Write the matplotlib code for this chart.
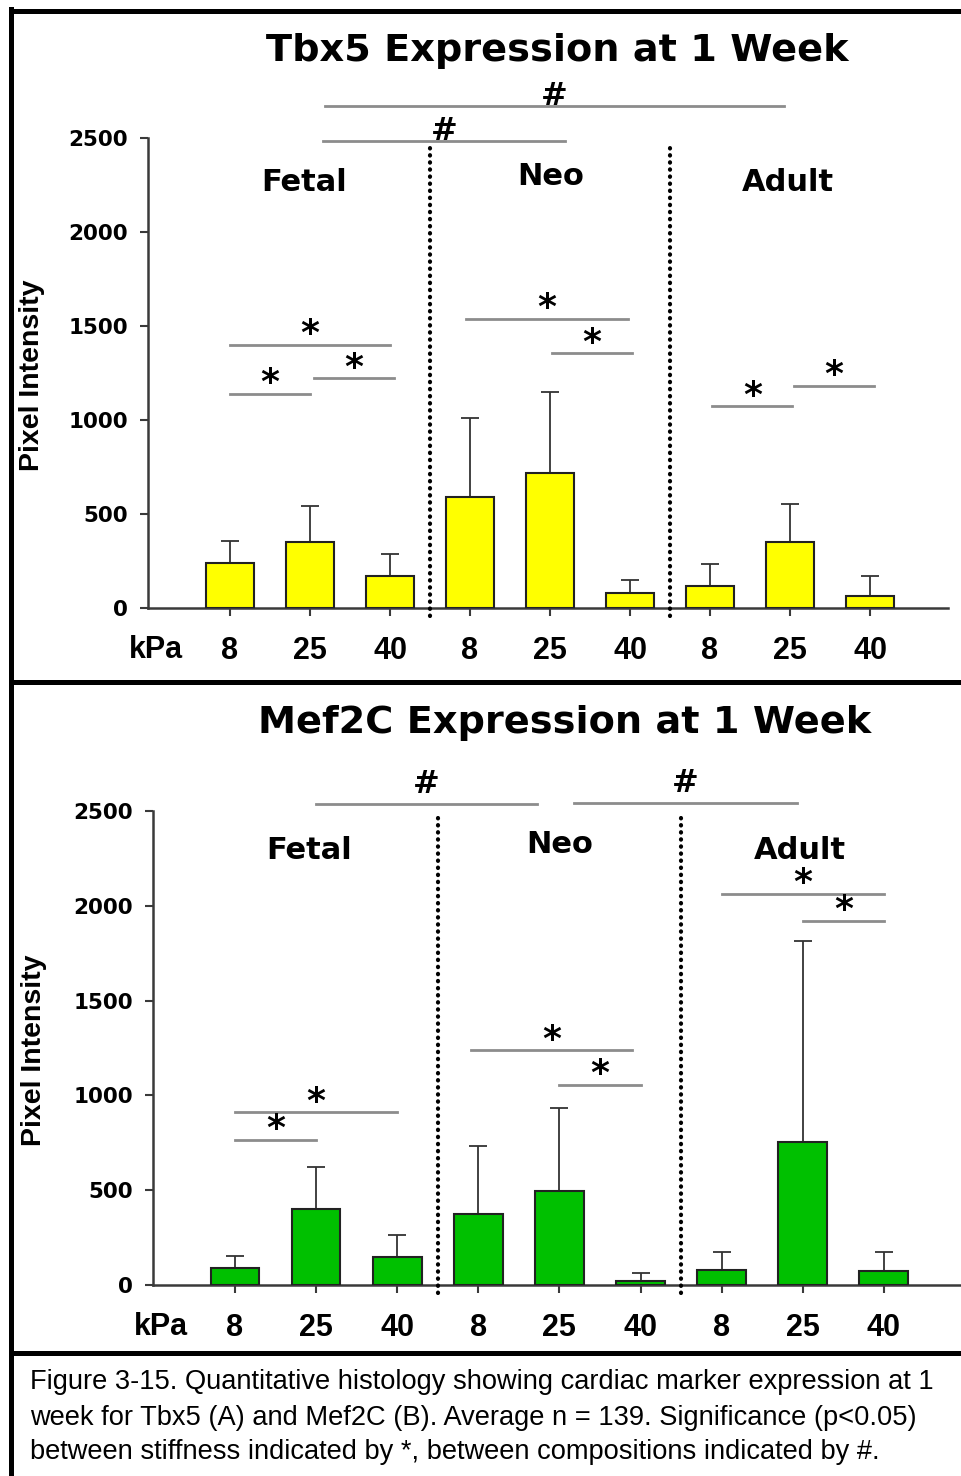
import numpy as np
import matplotlib.pyplot as plt
from matplotlib.lines import Line2D

W, H = 962, 1476

# --- data ---
groups = ['Fetal', 'Neo', 'Adult']
kpa_labels = ['8', '25', '40', '8', '25', '40', '8', '25', '40']
yticks = [0, 500, 1000, 1500, 2000, 2500]

tbx5_mean = [240, 351, 170, 590, 718, 80, 117, 351, 64]
tbx5_err = [116, 192, 117, 421, 431, 69, 117, 202, 106]
mef2c_mean = [90, 401, 148, 374, 496, 21, 79, 754, 74]
mef2c_err = [63, 221, 116, 359, 437, 42, 95, 1060, 100]

# significance bars: (x start, x end, y level)
tbx5_stars = [(0, 2, 1399), (0, 1, 1138), (1.05, 2.05, 1223),
              (2.95, 4.97, 1537), (4.02, 5.02, 1356),
              (6.03, 7.03, 1074), (7.05, 8.05, 1181)]
tbx5_hash = [(1.19, 6.92, 2670), (1.16, 4.19, 2484)]
mef2c_stars = [(0, 2, 912), (0, 1, 765), (2.91, 4.9, 1239), (4.0, 5.0, 1055),
               (6, 8, 2062), (7, 8, 1920)]
mef2c_hash = [(1.0, 3.72, 2537), (4.18, 6.93, 2542)]

BOLD = ['DejaVu Sans']
ARIAL = ['Liberation Sans', 'DejaVu Sans']


def px_axes(fig, l, r, t, b):
    return fig.add_axes([l / W, (H - b) / H, (r - l) / W, (b - t) / H])


def draw_panel(fig, box, xlim, means, errs, color, stars, hashes, hash_off,
               title, title_xy, label_xy, group_pos):
    ax = px_axes(fig, *box)
    x = np.arange(len(means))
    ax.bar(x, means, width=0.6, color=color, edgecolor='#222222',
           linewidth=1.5, zorder=3)
    ax.errorbar(x, means, yerr=[np.zeros(len(errs)), errs], fmt='none',
                ecolor='#333333', elinewidth=1.3, capsize=6.5, capthick=1.3,
                zorder=2)
    ax.set_xlim(*xlim)
    ax.set_ylim(0, 2500)
    for s in ['top', 'right']:
        ax.spines[s].set_visible(False)
    for s in ['left', 'bottom']:
        ax.spines[s].set_color('#3a3a3a')
        ax.spines[s].set_linewidth(1.8)
    ax.set_xticks(x)
    ax.set_xticklabels(kpa_labels, family=ARIAL, fontweight='bold', fontsize=22)
    ax.set_yticks(yticks)
    ax.set_yticklabels([str(v) for v in yticks], family=BOLD,
                       fontweight='bold', fontsize=15.5)
    ax.tick_params(axis='x', length=6, width=1.5, color='#3a3a3a', pad=14)
    ax.tick_params(axis='y', length=6, width=1.5, color='#3a3a3a', pad=8.5)
    ax.patch.set_alpha(0)

    ax.annotate('kPa', xy=(xlim[0] + 0.095, 0), xycoords=('data', 'axes fraction'),
                xytext=(0, -19.6), textcoords='offset points', ha='center',
                va='top', family=ARIAL, fontweight='bold', fontsize=22)

    for xd in [2.5, 5.5]:
        ax.plot([xd, xd], [-40, 2463], color='black', lw=3,
                linestyle=(0, (0.1, 1.6)), dash_capstyle='round',
                clip_on=False, zorder=4)

    for (x1, x2, y) in stars:
        ax.plot([x1, x2], [y, y], color='#8c8c8c', lw=2, clip_on=False)
        ax.text((x1 + x2) / 2, y + 3, '*', ha='center', va='baseline',
                family=BOLD, fontweight='bold', fontsize=26)
    for (x1, x2, y) in hashes:
        ax.plot([x1, x2], [y, y], color='#8c8c8c', lw=2, clip_on=False)
        ax.text((x1 + x2) / 2, y + hash_off, '#', ha='center', va='baseline',
                family=BOLD, fontweight='bold', fontsize=23, clip_on=False)

    for g, (gx, gy) in zip(groups, group_pos):
        ax.text(gx, gy, g, ha='center', va='center', family=BOLD,
                fontweight='bold', fontsize=22)

    fig.text(title_xy[0] / W, 1 - title_xy[1] / H, title, ha='center',
             va='center', family=BOLD, fontweight='bold', fontsize=27.5)
    fig.text(label_xy[0] / W, 1 - label_xy[1] / H, 'Pixel Intensity',
             rotation=90, ha='center', va='center', family=ARIAL,
             fontweight='bold', fontsize=20.5)
    return ax


fig = plt.figure(figsize=(W / 100, H / 100), dpi=100)

draw_panel(fig, (148, 948, 138, 608), (-1.025, 8.975), tbx5_mean, tbx5_err,
           '#ffff00', tbx5_stars, tbx5_hash, 8,
           'Tbx5 Expression at 1 Week', (557, 51), (32, 375),
           [(0.925, 2261), (4.01, 2293), (6.97, 2261)])
draw_panel(fig, (153, 962, 811, 1285), (-1.011, 8.964), mef2c_mean, mef2c_err,
           '#00c000', mef2c_stars, mef2c_hash, 58,
           'Mef2C Expression at 1 Week', (565, 723), (34, 1050),
           [(0.91, 2294), (4.0, 2321), (6.97, 2294)])

# frame borders
def fline(x0, y0, x1, y1):
    fig.add_artist(Line2D([x0 / W, x1 / W], [1 - y0 / H, 1 - y1 / H],
                          color='black', lw=3.6, transform=fig.transFigure))

fline(10.5, 10.5, 980, 10.5)
fline(10.5, 8.7, 10.5, 1480)
fline(10.5, 681.5, 980, 681.5)
fline(10.5, 1353, 980, 1353)

caption = ['Figure 3-15. Quantitative histology showing cardiac marker expression at 1',
           'week for Tbx5 (A) and Mef2C (B). Average n = 139. Significance (p<0.05)',
           'between stiffness indicated by *, between compositions indicated by #.']
for line, y in zip(caption, [1382, 1418, 1452]):
    fig.text(30 / W, 1 - y / H, line, ha='left', va='center', family=ARIAL,
             fontsize=19.6)

fig.savefig('out.png', dpi=100)
